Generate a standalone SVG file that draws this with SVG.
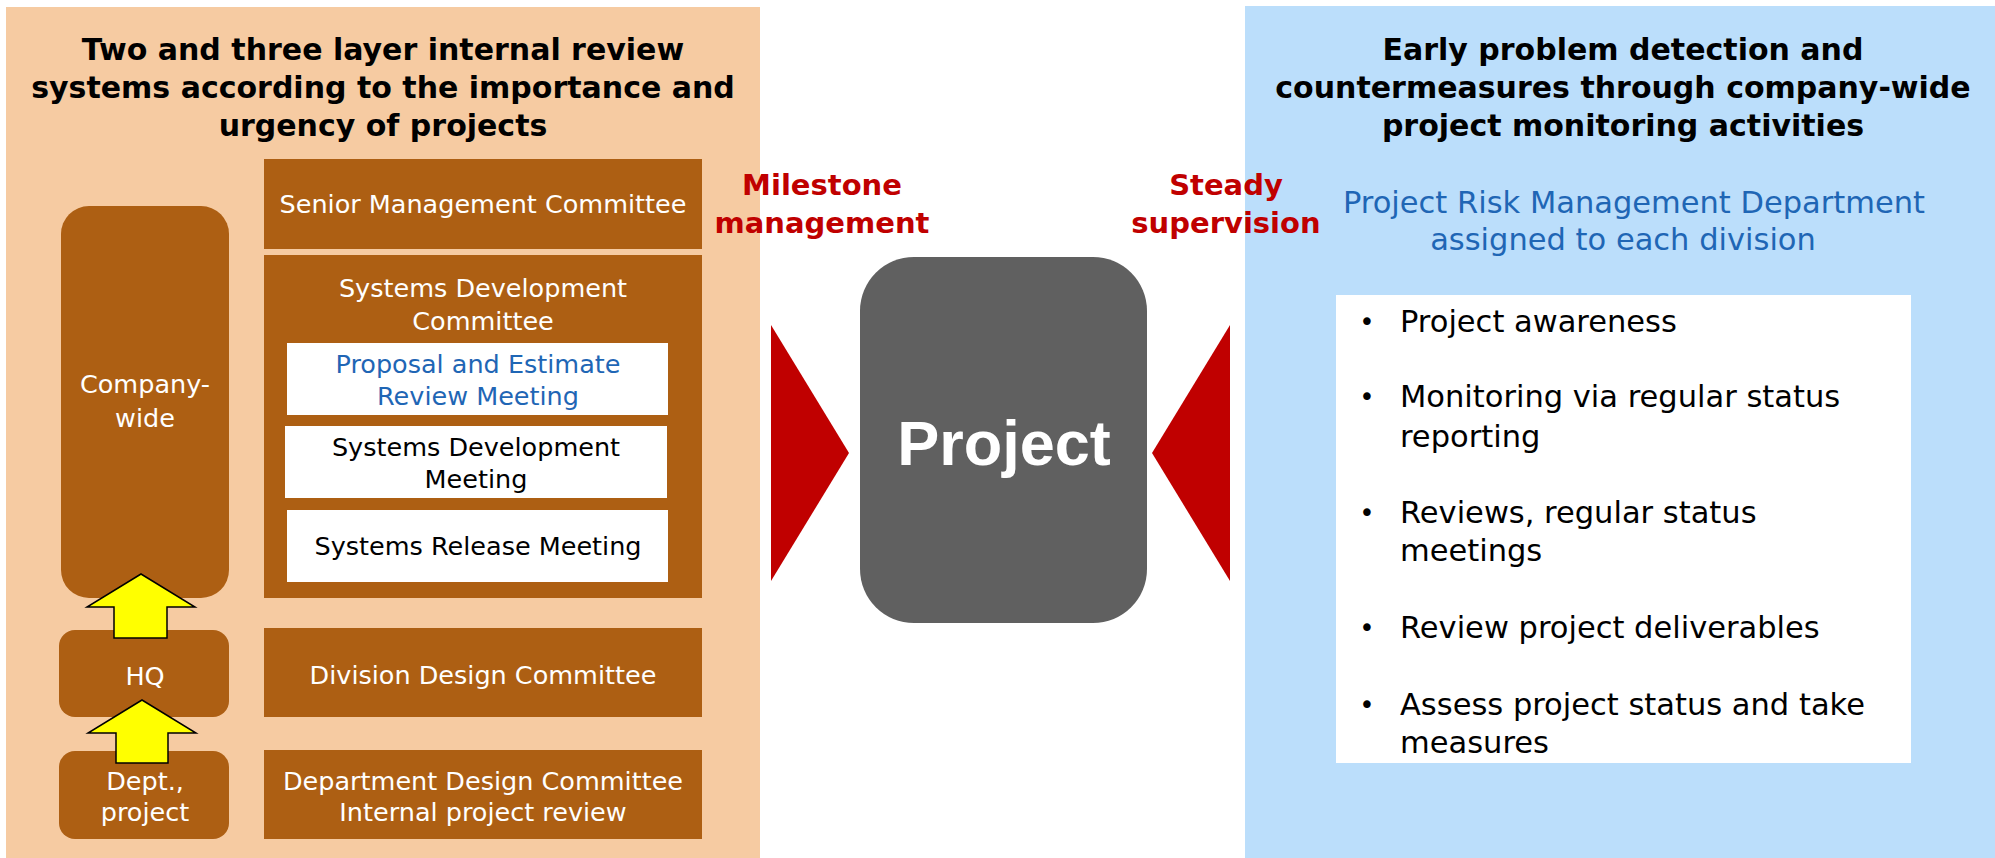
<svg xmlns="http://www.w3.org/2000/svg" width="1995" height="858" viewBox="0 0 1995 858">
  <style>
    .panel-l { fill: #F6CBA2; }
    .panel-r { fill: #BBDEFB; }
    .brown { fill: #AD5F13; }
    .white { fill: #FFFFFF; }
    .title { font-family: "DejaVu Sans", Verdana, sans-serif; font-weight: bold; font-size: 30px; fill: #000000; text-anchor: middle; }
    .lbl { font-family: "DejaVu Sans", Verdana, sans-serif; font-size: 25.5px; text-anchor: middle; }
    .lbl-w { fill: #FFFFFF; }
    .lbl-k { fill: #000000; }
    .lbl-b { fill: #1F66B5; }
    .red { font-family: "DejaVu Sans", Verdana, sans-serif; font-weight: bold; font-size: 29px; fill: #C00000; text-anchor: middle; }
    .dept { font-family: "DejaVu Sans", Verdana, sans-serif; font-size: 30.5px; fill: #1F66B5; text-anchor: middle; }
    .item { font-family: "DejaVu Sans", Verdana, sans-serif; font-size: 30.5px; fill: #000000; }
    .dot { font-family: "DejaVu Sans", Verdana, sans-serif; font-size: 26px; fill: #000000; text-anchor: middle; }
    .up { fill: #FFFF00; stroke: #000000; stroke-width: 1.5; stroke-linejoin: miter; }
    .wedge { fill: #C00000; }
  </style>

  <!-- background panels -->
  <rect class="panel-l" x="6" y="7" width="754" height="851"/>
  <rect class="panel-r" x="1245" y="6" width="750" height="852"/>

  <!-- left panel heading -->
  <g id="left-title">
    <text class="title" x="383" y="60">Two and three layer internal review</text>
    <text class="title" x="383" y="98">systems according to the importance and</text>
    <text class="title" x="383" y="136">urgency of projects</text>
  </g>

  <!-- organisational levels -->
  <g id="company-wide">
    <rect class="brown" x="61" y="206" width="168" height="392" rx="28" ry="28"/>
    <text class="lbl lbl-w" x="145" y="393">Company-</text>
    <text class="lbl lbl-w" x="145" y="427">wide</text>
  </g>
  <g id="hq">
    <rect class="brown" x="59" y="630" width="170" height="87" rx="16" ry="16"/>
    <text class="lbl lbl-w" x="145" y="685">HQ</text>
  </g>
  <g id="dept-project">
    <rect class="brown" x="59" y="751" width="170" height="88" rx="16" ry="16"/>
    <text class="lbl lbl-w" x="145" y="790">Dept.,</text>
    <text class="lbl lbl-w" x="145" y="821">project</text>
  </g>

  <!-- review bodies -->
  <g id="senior-management-committee">
    <rect class="brown" x="264" y="159" width="438" height="90"/>
    <text class="lbl lbl-w" x="483" y="213">Senior Management Committee</text>
  </g>
  <g id="systems-development-committee">
    <rect class="brown" x="264" y="255" width="438" height="343"/>
    <text class="lbl lbl-w" x="483" y="297">Systems Development</text>
    <text class="lbl lbl-w" x="483" y="330">Committee</text>
  </g>
  <g id="proposal-estimate-review">
    <rect class="white" x="287" y="343" width="381" height="72"/>
    <text class="lbl lbl-b" x="478" y="373">Proposal and Estimate</text>
    <text class="lbl lbl-b" x="478" y="405">Review Meeting</text>
  </g>
  <g id="systems-development-meeting">
    <rect class="white" x="285" y="426" width="382" height="72"/>
    <text class="lbl lbl-k" x="476" y="456">Systems Development</text>
    <text class="lbl lbl-k" x="476" y="488">Meeting</text>
  </g>
  <g id="systems-release-meeting">
    <rect class="white" x="287" y="510" width="381" height="72"/>
    <text class="lbl lbl-k" x="478" y="555">Systems Release Meeting</text>
  </g>
  <g id="division-design-committee">
    <rect class="brown" x="264" y="628" width="438" height="89"/>
    <text class="lbl lbl-w" x="483" y="684">Division Design Committee</text>
  </g>
  <g id="department-design-committee">
    <rect class="brown" x="264" y="750" width="438" height="89"/>
    <text class="lbl lbl-w" x="483" y="790">Department Design Committee</text>
    <text class="lbl lbl-w" x="483" y="821">Internal project review</text>
  </g>

  <!-- central project -->
  <g id="project">
    <rect x="860" y="257" width="287" height="366" rx="54" ry="54" fill="#606060"/>
    <text x="1004" y="465" font-family="'Liberation Sans', Arial, sans-serif" font-weight="bold" font-size="63" fill="#FFFFFF" text-anchor="middle">Project</text>
  </g>

  <g id="milestone-label">
    <text class="red" x="822" y="195">Milestone</text>
    <text class="red" x="822" y="233">management</text>
  </g>

  <!-- right panel -->
  <g id="right-title">
    <text class="title" x="1623" y="60">Early problem detection and</text>
    <text class="title" x="1623" y="98">countermeasures through company-wide</text>
    <text class="title" x="1623" y="136">project monitoring activities</text>
  </g>
  <g id="risk-department">
    <text class="dept" x="1634" y="213">Project Risk Management Department</text>
    <text class="dept" x="1623" y="250">assigned to each division</text>
  </g>
  <g id="monitoring-activities">
    <rect class="white" x="1336" y="295" width="575" height="468"/>
    <text class="dot" x="1367" y="331">•</text>
    <text class="item" x="1400" y="332">Project awareness</text>
    <text class="dot" x="1367" y="406">•</text>
    <text class="item" x="1400" y="407">Monitoring via regular status</text>
    <text class="item" x="1400" y="447">reporting</text>
    <text class="dot" x="1367" y="522">•</text>
    <text class="item" x="1400" y="523">Reviews, regular status</text>
    <text class="item" x="1400" y="561">meetings</text>
    <text class="dot" x="1367" y="637">•</text>
    <text class="item" x="1400" y="638">Review project deliverables</text>
    <text class="dot" x="1367" y="714">•</text>
    <text class="item" x="1400" y="715">Assess project status and take</text>
    <text class="item" x="1400" y="753">measures</text>
  </g>

  <g id="supervision-label">
    <text class="red" x="1226" y="195">Steady</text>
    <text class="red" x="1226" y="233">supervision</text>
  </g>

  <!-- connectors: escalation arrows and wedges into the project -->
  <g id="connectors">
    <polygon class="up" points="141,574 195,607 167,607 167,638 114,638 114,607 87,607"/>
    <polygon class="up" points="142,700 196,733 168,733 168,763 116,763 116,733 88,733"/>
    <polygon class="wedge" points="771,325 849,453 771,581"/>
    <polygon class="wedge" points="1230,325 1152,453 1230,581"/>
  </g>
</svg>
